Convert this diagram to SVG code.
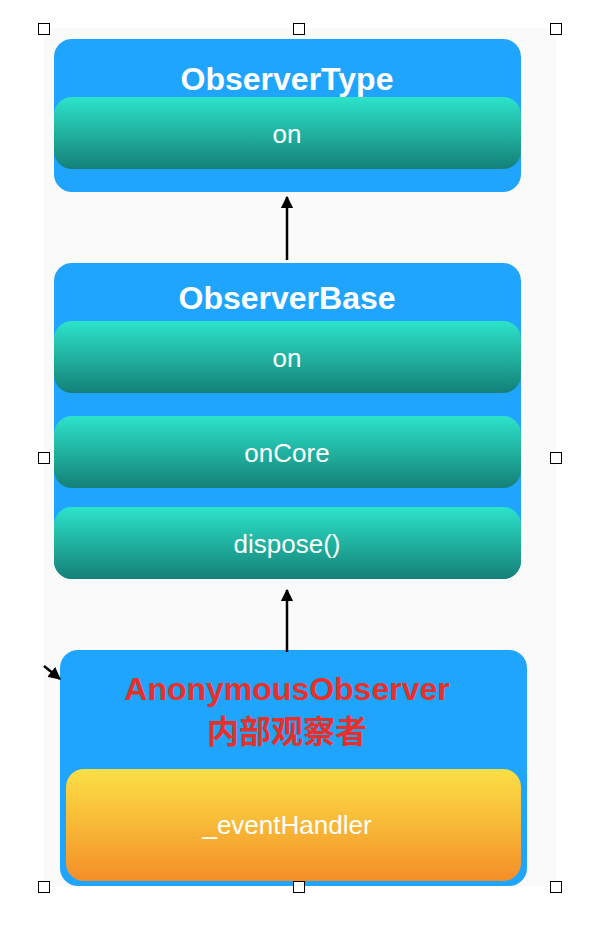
<svg xmlns="http://www.w3.org/2000/svg" width="604" height="938" viewBox="0 0 604 938">
<style>
.box{fill:#1fa5fd}
.bar{fill:url(#teal)}
.title{font-family:"Liberation Sans",Arial,sans-serif;font-weight:bold;font-size:32px;fill:#ffffff;text-anchor:middle}
.red{fill:#e8302a}
.cjk{font-family:"Liberation Sans","Noto Sans CJK SC",sans-serif}
.lbl{font-family:"Liberation Sans",Arial,sans-serif;font-size:26px;fill:#ffffff;text-anchor:middle}
.handle{fill:#ffffff;stroke:#000000;stroke-width:1}
.conn{stroke:#000000;stroke-width:2.5;fill:none}
</style>
<defs>
<linearGradient id="teal" x1="0" y1="0" x2="0" y2="1">
<stop offset="0" stop-color="#2de3ca"/>
<stop offset="0.55" stop-color="#1fad9c"/>
<stop offset="1" stop-color="#148077"/>
</linearGradient>
<linearGradient id="orange" x1="0" y1="0" x2="0" y2="1">
<stop offset="0" stop-color="#fbdf46"/>
<stop offset="0.5" stop-color="#f8b837"/>
<stop offset="1" stop-color="#f48e28"/>
</linearGradient>
<marker id="head" viewBox="0 0 10 10" refX="9" refY="5" markerWidth="5" markerHeight="5" orient="auto" markerUnits="strokeWidth">
<path d="M0,0 L10,5 L0,10 Z" fill="#000000"/>
</marker>
</defs>
<rect x="44" y="28" width="512" height="858" fill="#fafafb"/>
<g id="observer-type">
<rect class="box" x="54" y="39" width="467" height="153" rx="18"/>
<text class="title" x="287" y="90">ObserverType</text>
<rect class="bar" x="54" y="97" width="467" height="72" rx="18"/>
<text class="lbl" x="287" y="143">on</text>
</g>
<g id="observer-base">
<rect class="box" x="54" y="263" width="467" height="316" rx="18"/>
<text class="title" x="287" y="309">ObserverBase</text>
<rect class="bar" x="54" y="321" width="467" height="72" rx="18"/>
<text class="lbl" x="287" y="367">on</text>
<rect class="bar" x="54" y="416" width="467" height="72" rx="18"/>
<text class="lbl" x="287" y="462">onCore</text>
<rect class="bar" x="54" y="507" width="467" height="72" rx="18"/>
<text class="lbl" x="287" y="553">dispose()</text>
</g>
<g id="anonymous-observer">
<rect class="box" x="60" y="650" width="467" height="236" rx="18"/>
<text class="title red" x="287" y="700">AnonymousObserver</text>
<text class="title red cjk" x="287" y="743">内部观察者</text>
<rect x="66" y="769" width="455" height="112" rx="18" fill="url(#orange)"/>
<text class="lbl" x="287" y="834">_eventHandler</text>
</g>
<g id="connectors">
<line class="conn" x1="287" y1="260" x2="287" y2="197" marker-end="url(#head)"/>
<line class="conn" x1="287" y1="652" x2="287" y2="590" marker-end="url(#head)"/>
<line class="conn" x1="44" y1="666" x2="60" y2="679" marker-end="url(#head)"/>
</g>
<g id="handles">
<rect class="handle" x="38.5" y="23.5" width="11" height="11"/>
<rect class="handle" x="293.5" y="23.5" width="11" height="11"/>
<rect class="handle" x="550.5" y="23.5" width="11" height="11"/>
<rect class="handle" x="38.5" y="452.5" width="11" height="11"/>
<rect class="handle" x="550.5" y="452.5" width="11" height="11"/>
<rect class="handle" x="38.5" y="881.5" width="11" height="11"/>
<rect class="handle" x="293.5" y="881.5" width="11" height="11"/>
<rect class="handle" x="550.5" y="881.5" width="11" height="11"/>
</g>
</svg>
